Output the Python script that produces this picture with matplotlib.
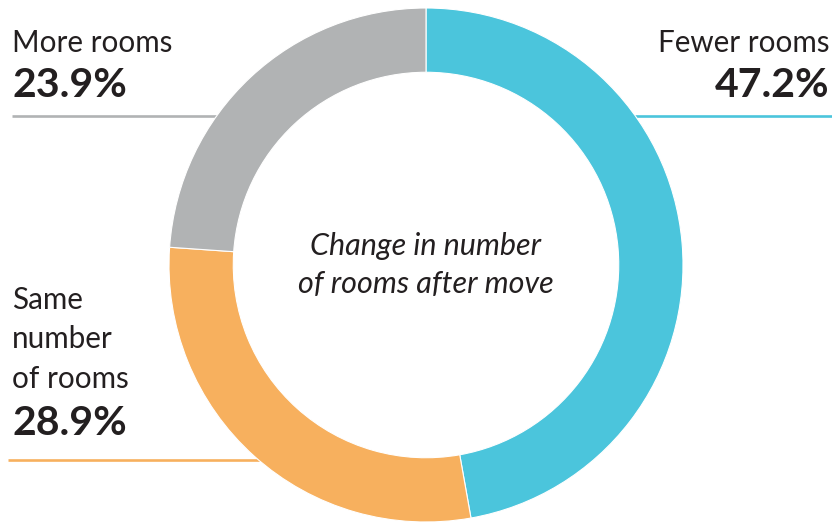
import matplotlib.pyplot as plt

# === Daten ===
labels = ["Fewer rooms", "Same\nnumber\nof rooms", "More rooms"]
values = [47.2, 28.9, 23.9]
colors = ["#4BC5DC", "#F7B05E", "#B1B3B4"]
center_text = "Change in number\nof rooms after move"

W, H = 832, 522
TXT = "#231F20"
plt.rcParams["font.family"] = ["Lato", "DejaVu Sans"]

fig = plt.figure(figsize=(W / 100, H / 100), dpi=100)
ax = fig.add_axes([0, 0, 1, 1])

cx, cy, r = 426, H - 265, 257
ax.pie(
    values,
    colors=colors,
    startangle=90,
    counterclock=False,
    center=(cx, cy),
    radius=r,
    wedgeprops=dict(width=r * 0.25, edgecolor="white", linewidth=0.8),
    frame=False,
)
ax.set_xlim(0, W)
ax.set_ylim(0, H)
ax.set_aspect("equal")
ax.axis("off")

# === Beschriftungen ===
def y(p):
    return H - p

LBL = 21.3
PCT = 29.5

# Fewer rooms (rechts oben)
ax.plot([634, 832], [y(116), y(116)], color=colors[0], lw=1.9, zorder=0, solid_capstyle="butt")
ax.text(829, y(52), labels[0], ha="right", va="baseline", fontsize=LBL, color=TXT)
ax.text(829, y(97), f"{values[0]}%", ha="right", va="baseline", fontsize=PCT, fontweight="bold", color=TXT)

# More rooms (links oben)
ax.plot([12, 220], [y(116), y(116)], color=colors[2], lw=1.9, zorder=0, solid_capstyle="butt")
ax.text(12, y(52), labels[2], ha="left", va="baseline", fontsize=LBL, color=TXT)
ax.text(12, y(97), f"{values[2]}%", ha="left", va="baseline", fontsize=PCT, fontweight="bold", color=TXT)

# Same number of rooms (links unten)
ax.plot([8, 262], [y(460), y(460)], color=colors[1], lw=1.9, zorder=0, solid_capstyle="butt")
for i, line in enumerate(labels[1].split("\n")):
    ax.text(12, y(309 + i * 39.5), line, ha="left", va="baseline", fontsize=LBL, color=TXT)
ax.text(12, y(435), f"{values[1]}%", ha="left", va="baseline", fontsize=PCT, fontweight="bold", color=TXT)

# Text in der Mitte
for i, line in enumerate(center_text.split("\n")):
    ax.text(cx, y(255 + i * 38), line, ha="center", va="baseline", fontsize=22, style="italic", color=TXT)

fig.savefig("out.png", dpi=100)
